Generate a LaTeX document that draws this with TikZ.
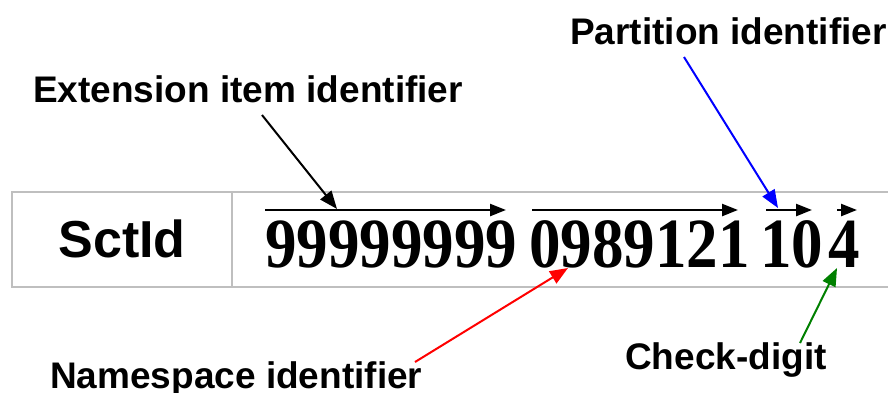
\documentclass[tikz,border=0pt]{standalone}
\usepackage{fontspec}
\setmainfont{Liberation Sans}
\newfontfamily\digitfont{Liberation Serif}
\usetikzlibrary{arrows.meta}
\tikzset{
  lbl/.style={anchor=base west, inner sep=0pt, font=\fontsize{37}{40}\selectfont\bfseries},
  digs/.style={anchor=base west, inner sep=0pt, font=\fontsize{63}{70}\digitfont\bfseries},
  grid/.style={draw=black!25, line width=1.6pt},
  harrow/.style={line width=2.4pt, -{Triangle[length=16pt,width=12pt]}},
  larrow/.style={line width=2pt, -{Triangle[length=18pt,width=14pt]}},
}
\newcommand{\talldigits}[1]{\scalebox{1}[1.12]{#1}}
\begin{document}
\begin{tikzpicture}[x=1pt,y=-1pt]
\useasboundingbox (0,0) rectangle (888,392);
\begin{scope}
\clip (0,0) rectangle (888,392);
\draw[grid] (12,192) rectangle (900,287);
\draw[grid] (232,192) -- (232,287);
\end{scope}
\node[anchor=base, inner sep=0pt, font=\fontsize{52}{56}\selectfont\bfseries] (sct) at (122,257) {SctId};
\node[digs] (g1) at (265,267) {\talldigits{99999999}};
\node[digs] (g2) at (529,267) {\talldigits{0989121}};
\node[digs] (g3) at (760,267) {\talldigits{10}};
\node[digs] (g4) at (828,267) {\talldigits{4}};
\coordinate (h1s) at (265,210); \coordinate (h1e) at (506,210);
\coordinate (h2s) at (532,210); \coordinate (h2e) at (738,210);
\coordinate (h3s) at (766,210); \coordinate (h3e) at (812,210);
\coordinate (h4s) at (837,210); \coordinate (h4e) at (857,210);
\draw[harrow] (h1s) -- (h1e);
\draw[harrow] (h2s) -- (h2e);
\draw[harrow] (h3s) -- (h3e);
\draw[harrow] (h4s) -- (h4e);
\node[lbl] (ext) at (33,102) {Extension item identifier};
\node[lbl] (par) at (570,44) {Partition identifier};
\node[lbl] (nsp) at (50,388) {Namespace identifier};
\node[lbl] (chk) at (625,369) {Check-digit};
\coordinate (es) at (262,115); \coordinate (ee) at (337,209);
\coordinate (ps) at (684,57); \coordinate (pe) at (778,208);
\coordinate (ns) at (415,362); \coordinate (ne) at (568,268);
\coordinate (cs) at (800,343); \coordinate (ce) at (837,268);
\draw[larrow, black] (es) -- (ee);
\draw[larrow, blue] (ps) -- (pe);
\draw[larrow, red] (ns) -- (ne);
\draw[larrow, green!50!black] (cs) -- (ce);
\end{tikzpicture}
\end{document}
